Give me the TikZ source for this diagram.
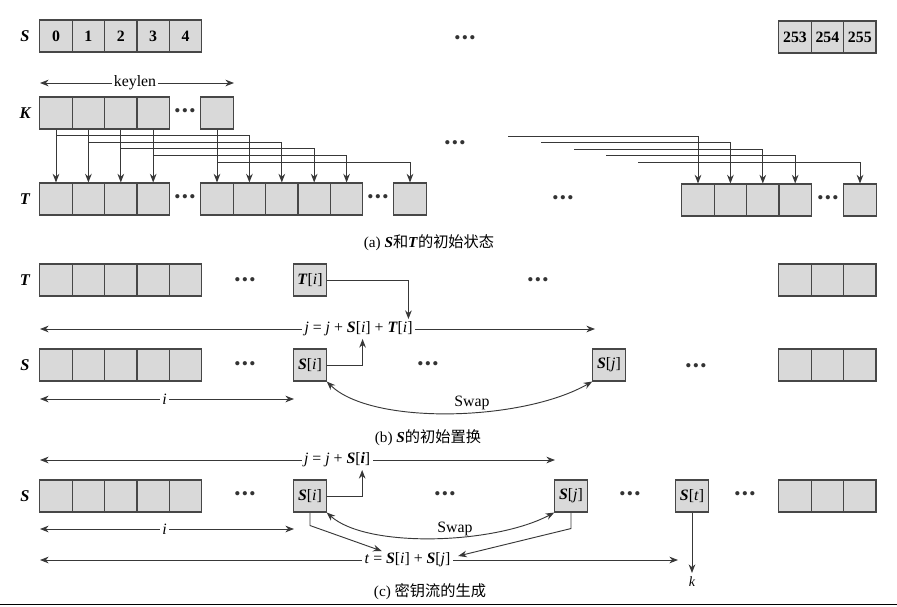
\documentclass[tikz,border=0pt]{standalone}
\usepackage{fontspec}
\setmainfont{Liberation Serif}
\newfontfamily\cjk{Noto Sans CJK SC}
\usetikzlibrary{positioning,arrows.meta,calc}
\newcommand{\Sbf}{\textbf{\textit{S}}}
\newcommand{\Tbf}{\textbf{\textit{T}}}
\newcommand{\Kbf}{\textbf{\textit{K}}}
\newcommand{\itx}[1]{\textit{#1}}
\newcommand{\idx}[1]{\textmd{[\textit{#1}]}}
\newcommand{\dotrow}{\textbullet\hspace{1.2pt}\textbullet\hspace{1.2pt}\textbullet}
\tikzset{
  cell/.style={draw=black!72,fill=black!15,line width=0.9pt,minimum width=0.972cm,
    minimum height=0.96cm,inner sep=0pt,font=\fontsize{13.5}{15}\selectfont\bfseries},
  rowlbl/.style={font=\fontsize{14}{16}\selectfont\bfseries\itshape},
  dots/.style={font=\fontsize{15}{17}\selectfont,text=black!80},
  wire/.style={draw=black!78,line width=0.8pt},
  arr/.style={wire,-{Stealth[length=2.6mm,width=2mm]}},
  dim/.style={wire,{Stealth[length=2.6mm,width=2mm]}-{Stealth[length=2.6mm,width=2mm]}},
  lbl/.style={fill=white,inner sep=2pt,font=\fontsize{13.5}{15}\selectfont},
  captxt/.style={font=\fontsize{13}{15}\selectfont},
}
\begin{document}
\begin{tikzpicture}[x=0.03cm,y=-0.03cm]
  \useasboundingbox (0,0) rectangle (897,606);
  % ---- (a) initial state of S and T ----
  \node[rowlbl] (labSa) at (25,36) {S};
  \foreach \n in {0,...,4}
    \node[cell] (sa\n) at ({56+32.4*\n},36) {\n};
  \foreach \v [count=\c] in {253,254,255}
    \node[cell] (sz\c) at ({762.6+32.4*\c},37) {\v};
  \node[dots] (da1) at (465,40) {\dotrow};
  % key
  \coordinate (kl) at (40,83);
  \coordinate (kr) at (234,83);
  \draw[dim] (kl) -- (kr) node[pos=0.49,lbl] (kyl) {keylen};
  \node[rowlbl] (labK) at (25,113) {K};
  \foreach \n in {1,...,4}
    \node[cell] (k\n) at ({23.6+32.4*\n},113) {};
  \node[dots] (da2) at (185,113) {\dotrow};
  \node[cell] (kn) at (217,113) {};
  % T filled from K
  \node[rowlbl] (labTa) at (25,199) {T};
  \foreach \n in {1,...,4}
    \node[cell] (t\n) at ({23.6+32.4*\n},199) {};
  \node[dots] (da3) at (185,199) {\dotrow};
  \foreach \n in {5,...,9}
    \node[cell] (t\n) at ({217+32.4*(\n-5)},199) {};
  \node[dots] (da4) at (378,199) {\dotrow};
  \node[cell] (t10) at (410,199) {};
  \node[dots] (da5) at (455,145) {\dotrow};
  \node[dots] (da6) at (563,200) {\dotrow};
  \foreach \n in {1,...,4}
    \node[cell] (tr\n) at ({698+32.4*(\n-1)},200) {};
  \node[dots] (da7) at (828,200) {\dotrow};
  \node[cell] (trn) at (860,200) {};
  \foreach \n in {1,...,4}
    \draw[arr] (k\n.south) -- (t\n.north);
  \draw[arr] (kn.south) -- (t5.north);
  \foreach \a/\b/\y in {1/6/135,2/7/142,3/8/148,4/9/155,n/10/162}
    \draw[arr] (k\a.south) -- (k\a.south |- 0,\y) -| (t\b.north);   % wrap round
  \foreach \n/\x/\y in {1/508/136,2/541/142,3/574/149,4/606/155,5/638/162}
    \coordinate (w\n) at (\x,\y);
  \foreach \n/\t in {1/tr1,2/tr2,3/tr3,4/tr4,5/trn}
    \draw[arr] (w\n) -| (\t.north);
  \node[captxt] (capa) at (429,243) {(a) \Sbf{\cjk 和}\Tbf{\cjk 的初始状态}};

  % ---- (b) initial permutation of S ----
  \node[rowlbl] (labTb) at (25,280) {T};
  \foreach \n in {1,...,5}
    \node[cell] (tb\n) at ({23.6+32.4*\n},280) {};
  \node[dots] (db1) at (245,282) {\dotrow};
  \node[cell] (ti) at (310,280) {\Tbf\idx{i}};
  \node[dots] (db2) at (538,282) {\dotrow};
  \foreach \c in {1,2,3}
    \node[cell] (tbz\c) at ({762.6+32.4*\c},280) {};
  \coordinate (jbl) at (40,329);
  \coordinate (jbr) at (595,329);
  \draw[dim] (jbl) -- (jbr)
    node[pos=0.574,lbl] (jb) {\itx{j} = \itx{j} + \Sbf[\itx{i}] + \Tbf[\itx{i}]};
  \node[rowlbl] (labSb) at (25,365) {S};
  \foreach \n in {1,...,5}
    \node[cell] (sb\n) at ({23.6+32.4*\n},365) {};
  \node[dots] (db3) at (245,366) {\dotrow};
  \node[cell] (sib) at (310,365) {\Sbf\idx{i}};
  \node[dots] (db4) at (428,366) {\dotrow};
  \node[cell] (sjb) at (609,365) {\Sbf\idx{j}};
  \node[dots] (db5) at (696,368) {\dotrow};
  \foreach \c in {1,2,3}
    \node[cell] (sbz\c) at ({762.6+32.4*\c},365) {};
  \draw[arr] (ti.east) -| ($(jb.north east)+(-7,0)$);
  \draw[arr] (sib.east) -| ($(jb.south)+(4,0)$);
  \coordinate (ibl) at (40,399);
  \coordinate (ibr) at (294,399);
  \draw[dim] (ibl) -- (ibr) node[pos=0.49,lbl] (ib) {\itx{i}};
  \draw[dim] (sib.south east) .. controls +(45,44) and +(-70,40) .. (sjb.south west);
  \node[lbl,fill=none] (swb) at (472,403) {Swap};
  \node[captxt] (capb) at (428,438) {(b) \Sbf{\cjk 的初始置换}};

  % ---- (c) key stream generation ----
  \coordinate (jcl) at (40,460);
  \coordinate (jcr) at (555,460);
  \draw[dim] (jcl) -- (jcr)
    node[pos=0.577,lbl] (jc) {\itx{j} = \itx{j} + \Sbf[\textbf{\itx{i}}]};
  \node[rowlbl] (labSc) at (25,496) {S};
  \foreach \n in {1,...,5}
    \node[cell] (sc\n) at ({23.6+32.4*\n},496) {};
  \node[dots] (dc1) at (245,496) {\dotrow};
  \node[cell] (sic) at (310,496) {\Sbf\idx{i}};
  \node[dots] (dc2) at (445,496) {\dotrow};
  \node[cell] (sjc) at (571,496) {\Sbf\idx{j}};
  \node[dots] (dc3) at (630,496) {\dotrow};
  \node[cell] (stc) at (692,496) {\Sbf\idx{t}};
  \node[dots] (dc4) at (745,496) {\dotrow};
  \foreach \c in {1,2,3}
    \node[cell] (scz\c) at ({762.6+32.4*\c},496) {};
  \draw[arr] (sic.east) -| ($(jc.south)+(25,0)$);
  \coordinate (icl) at (40,529);
  \coordinate (icr) at (294,529);
  \draw[dim] (icl) -- (icr) node[pos=0.49,lbl] (ic) {\itx{i}};
  \draw[dim] (sic.south east) .. controls +(40,36) and +(-60,32) .. (sjc.south west);
  \node[lbl,fill=none] (swc) at (455,529) {Swap};
  \coordinate (tcl) at (40,560);
  \coordinate (tcr) at (678,560);
  \draw[dim] (tcl) -- (tcr)
    node[pos=0.576,lbl] (tc) {\itx{t} = \Sbf[\itx{i}] + \Sbf[\itx{j}]};
  \draw[arr] (sic.south) -- ++(0,13) -- ($(tc.north west)+(20,1)$);
  \draw[arr] (sjc.south) -- ++(0,16) -- ($(tc.east)+(5,-4)$);
  \node[font=\fontsize{12}{14}\selectfont\itshape] (kk) at (692,582) {k};
  \draw[arr] (stc.south) -- (kk.north);
  \node[captxt] (capc) at (430,592) {(c) {\cjk 密钥流的生成}};
  \draw[line width=1.6pt] (0,604.5) -- (897,604.5);
\end{tikzpicture}
\end{document}
